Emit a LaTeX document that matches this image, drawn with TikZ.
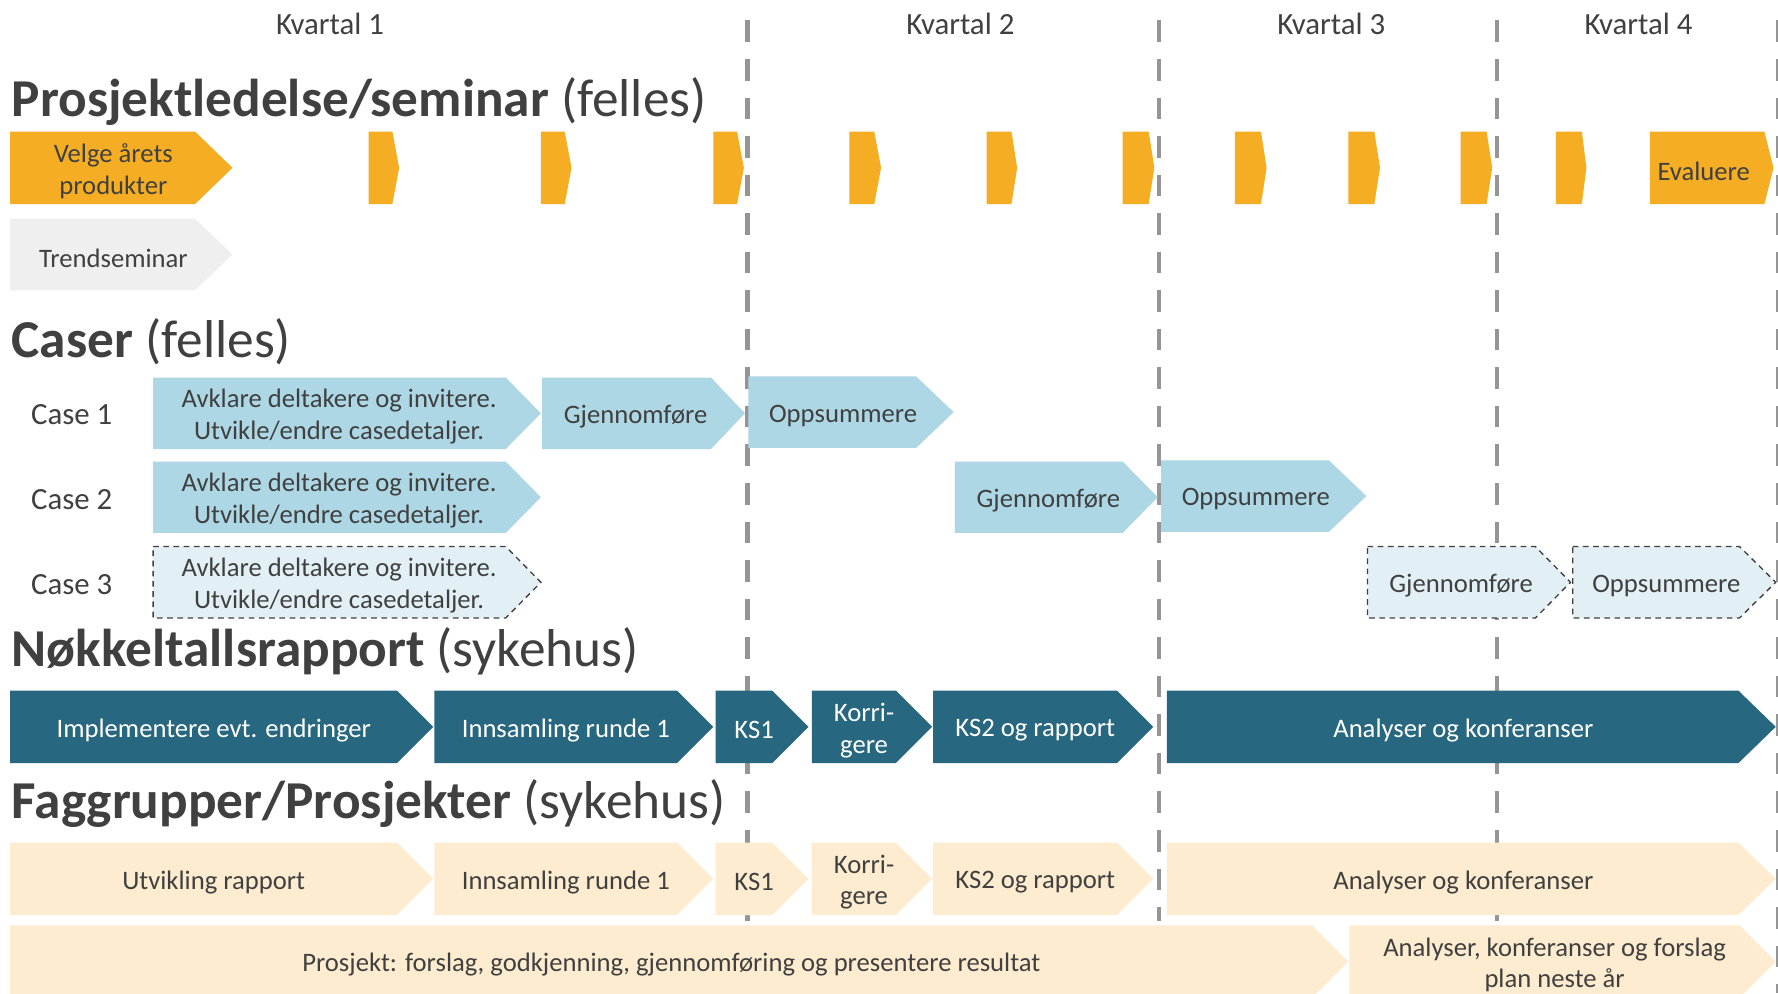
\documentclass[tikz,border=0pt]{standalone}
\usepackage{fontspec}
\setmainfont{Carlito}
\definecolor{txtgrey}{HTML}{404040}
\definecolor{lineC}{HTML}{959595}
\definecolor{orangeC}{HTML}{F5AE23}
\definecolor{trendC}{HTML}{EFEFEF}
\definecolor{blueC}{HTML}{ADD7E5}
\definecolor{paleC}{HTML}{E2F0F6}
\definecolor{tealC}{HTML}{276780}
\definecolor{creamC}{HTML}{FDECCF}
\newcommand{\chev}[8]{%
  \path[#1] (#3,#6) -- (#4,#6) -- (#5,{(#6+#7)/2}) -- (#4,#7) -- (#3,#7) -- cycle;
  \node[#1 text] (#2) at ({(#3+#5)/2-7},{(#6+#7)/2+3}) {#8};
}
\begin{document}
\begin{tikzpicture}[x=0.5pt,y=-0.5pt,
  every node/.style={text=txtgrey, inner sep=0pt, align=center,
    font=\fontsize{11.75}{14}\selectfont},
  qline/.style={draw=lineC, line width=2pt, dash pattern=on 9.5pt off 7.5pt},
  head/.style={anchor=base west, font=\fontsize{23.5}{28}\selectfont},
  qlabel/.style={anchor=base, font=\fontsize{13.6}{16}\selectfont},
  caselabel/.style={anchor=base west, font=\fontsize{13.6}{16}\selectfont},
  ornbox/.style={fill=orangeC},
  ornbox text/.style={},
  trendbox/.style={fill=trendC},
  trendbox text/.style={},
  bluebox/.style={fill=blueC},
  bluebox text/.style={},
  dashbox/.style={fill=paleC, draw=txtgrey, line width=0.6pt, dash pattern=on 2.5pt off 2pt},
  dashbox text/.style={},
  tealbox/.style={fill=tealC},
  tealbox text/.style={text=white},
  creambox/.style={fill=creamC},
  creambox text/.style={},
]
\useasboundingbox[fill=white] (0,0) rectangle (1568,876);

% quarter separators
\foreach \x/\n in {659/a,1022/b,1320/c} {
  \coordinate (top\n) at (\x,18);
  \coordinate (bot\n) at (\x,812);
  \draw[qline] (top\n) -- (bot\n);
}
\coordinate (topd) at (1568,18);
\coordinate (botd) at (1568,876);
\draw[qline] (topd) -- (botd);

% quarter labels
\node[qlabel] (k1) at (291,30) {Kvartal 1};
\node[qlabel] (k2) at (847,30) {Kvartal 2};
\node[qlabel] (k3) at (1174,30) {Kvartal 3};
\node[qlabel] (k4) at (1445,30) {Kvartal 4};

% headings
\node[head] (h1) at (10,103) {\textbf{Prosjektledelse/seminar} (felles)};
\node[head] (h2) at (10,315) {\textbf{Caser} (felles)};
\node[head] (h3) at (10,588) {\textbf{Nøkkeltallsrapport} (sykehus)};
\node[head] (h4) at (10,722) {\textbf{Faggrupper/Prosjekter} (sykehus)};

% project management row
\chev{ornbox}{velge}{9}{172}{205}{116}{180}{Velge årets\\produkter}
\chev{ornbox}{o1}{325}{346}{352}{116}{180}{}
\chev{ornbox}{o2}{477}{498}{504}{116}{180}{}
\chev{ornbox}{o3}{629}{650}{656}{116}{180}{}
\chev{ornbox}{o4}{749}{771}{777}{116}{180}{}
\chev{ornbox}{o5}{870}{892}{897}{116}{180}{}
\chev{ornbox}{o6}{990}{1013}{1018}{116}{180}{}
\chev{ornbox}{o7}{1089}{1112}{1117}{116}{180}{}
\chev{ornbox}{o8}{1189}{1212}{1217}{116}{180}{}
\chev{ornbox}{o9}{1288}{1311}{1316}{116}{180}{}
\chev{ornbox}{o10}{1372}{1395}{1399}{116}{180}{}
\chev{ornbox}{evaluere}{1455}{1556}{1564}{116}{180}{Evaluere}

\chev{trendbox}{trend}{9}{172}{205}{193}{256}{Trendseminar}

% cases
\node[caselabel] (c1) at (27,374) {Case 1};
\node[caselabel] (c2) at (27,449) {Case 2};
\node[caselabel] (c3) at (27,524) {Case 3};

\chev{bluebox}{c1a}{135}{446}{477}{333}{396}{Avklare deltakere og invitere.\\Utvikle/endre casedetaljer.}
\chev{bluebox}{c1b}{478}{627}{657}{333}{396}{Gjennomføre}
\chev{bluebox}{c1c}{660}{808}{841}{332}{395}{Oppsummere}

\chev{bluebox}{c2a}{135}{446}{477}{407}{470}{Avklare deltakere og invitere.\\Utvikle/endre casedetaljer.}
\chev{bluebox}{c2b}{842}{990}{1021}{407}{470}{Gjennomføre}
\chev{bluebox}{c2c}{1024}{1172}{1205}{406}{469}{Oppsummere}

\chev{dashbox}{c3a}{135}{446}{477}{482}{545}{Avklare deltakere og invitere.\\Utvikle/endre casedetaljer.}
\chev{dashbox}{c3b}{1206}{1354}{1385}{482}{545}{Gjennomføre}
\chev{dashbox}{c3c}{1387}{1534}{1566}{482}{545}{Oppsummere}

% key figures row
\chev{tealbox}{n1}{9}{350}{382}{609}{673}{Implementere evt. endringer}
\chev{tealbox}{n2}{383}{597}{629}{609}{673}{Innsamling runde 1}
\chev{tealbox}{n3}{631}{681}{713}{609}{673}{KS1}
\chev{tealbox}{n4}{716}{790}{822}{609}{673}{Korri-\\gere}
\chev{tealbox}{n5}{823}{985}{1017}{609}{673}{KS2 og rapport}
\chev{tealbox}{n6}{1029}{1533}{1566}{609}{673}{Analyser og konferanser}

% groups row
\chev{creambox}{f1}{9}{350}{382}{743}{807}{Utvikling rapport}
\chev{creambox}{f2}{383}{597}{629}{743}{807}{Innsamling runde 1}
\chev{creambox}{f3}{631}{681}{713}{743}{807}{KS1}
\chev{creambox}{f4}{716}{790}{822}{743}{807}{Korri-\\gere}
\chev{creambox}{f5}{823}{985}{1017}{743}{807}{KS2 og rapport}
\chev{creambox}{f6}{1029}{1533}{1566}{743}{807}{Analyser og konferanser}

\chev{creambox}{p1}{9}{1157}{1189}{816}{880}{Prosjekt: forslag, godkjenning, gjennomføring og presentere resultat}
\chev{creambox}{p2}{1190}{1534}{1566}{816}{880}{Analyser, konferanser og forslag\\plan neste år}
\end{tikzpicture}
\end{document}
